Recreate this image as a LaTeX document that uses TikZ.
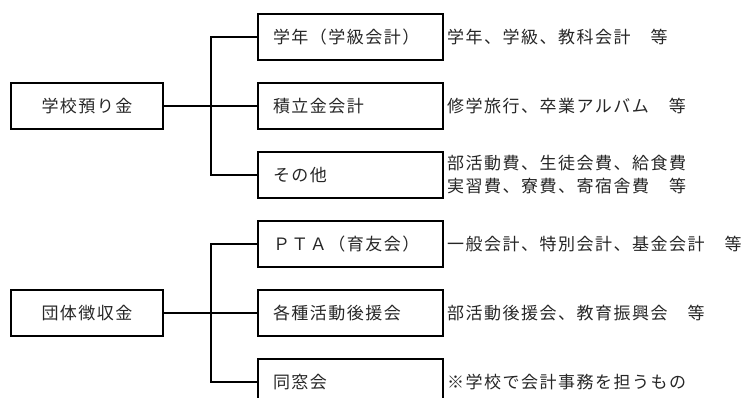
\documentclass[tikz,border=0pt]{standalone}
\usepackage{fontspec}
\setmainfont{Noto Sans CJK JP}[LetterSpace=8.8]
\begin{document}
\begin{tikzpicture}[x=1pt,y=-1pt,
  every node/.style={font=\fontsize{17}{23}\selectfont, text=black!85},
  lbox/.style={draw=black, line width=1.8pt, minimum width=152pt, minimum height=46pt, inner sep=0pt},
  rbox/.style={draw=black, line width=1.8pt, text width=155pt, inner xsep=15pt, inner ysep=0pt, minimum height=46pt, align=left},
  desc/.style={anchor=west, inner sep=0pt, align=left},
  link/.style={line width=1.8pt, line join=miter}]
\useasboundingbox (0,0) rectangle (747,398);
\clip (0,0) rectangle (747,398);
% group 1
\node[lbox] (L1) at (87,106) {学校預り金};
\node[rbox] (A1) at (350.5,37) {学年（学級会計）};
\node[rbox] (A2) at (350.5,106) {積立金会計};
\node[rbox] (A3) at (350.5,175) {その他};
\coordinate (J1) at (211,106);
\draw[link] (L1.east) -- (J1) -- (A2.west);
\draw[link] (A1.west) -| (J1) |- (A3.west);
\node[desc] (D1) at (447,37) {学年、学級、教科会計　等};
\node[desc] (D2) at (447,106) {修学旅行、卒業アルバム　等};
\node[desc] (D3) at (447,175) {部活動費、生徒会費、給食費\\実習費、寮費、寄宿舎費　等};
% group 2
\node[lbox] (L2) at (87,313) {団体徴収金};
\node[rbox] (B1) at (350.5,244) {ＰＴＡ（育友会）};
\node[rbox] (B2) at (350.5,313) {各種活動後援会};
\node[rbox] (B3) at (350.5,382) {同窓会};
\coordinate (J2) at (211,313);
\draw[link] (L2.east) -- (J2) -- (B2.west);
\draw[link] (B1.west) -| (J2) |- (B3.west);
\node[desc] (E1) at (447,244) {一般会計、特別会計、基金会計　等};
\node[desc] (E2) at (447,313) {部活動後援会、教育振興会　等};
\node[desc] (E3) at (447,382) {※学校で会計事務を担うもの};
\end{tikzpicture}
\end{document}
